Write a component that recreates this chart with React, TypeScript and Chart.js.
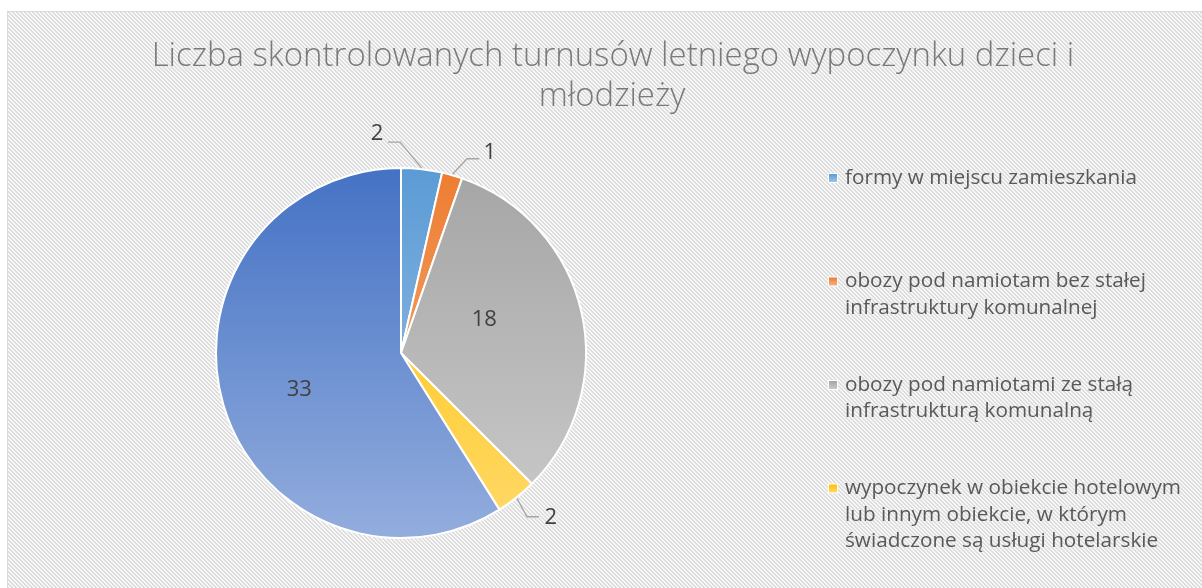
import { useEffect, useRef } from "react";
import { Chart, registerables } from "chart.js";

Chart.register(...registerables);

const TITLE_LINES = [
  "Liczba skontrolowanych turnusów letniego wypoczynku dzieci i",
  "młodzieży",
];
const CATEGORIES: string[][] = [
  ["formy w miejscu zamieszkania"],
  ["obozy pod namiotam bez stałej", "infrastruktury komunalnej"],
  ["obozy pod namiotami ze stałą", "infrastrukturą komunalną"],
  ["wypoczynek w obiekcie hotelowym", "lub innym obiekcie, w którym", "świadczone są usługi hotelarskie"],
  [""],
];
const VALUES = [2, 1, 18, 2, 33];
const COLORS = ["#5B9BD5", "#ED7D31", "#A5A5A5", "#FFC000", "#4472C4"];

const W = 1202;
const H = 588;
const FONT = "'Open Sans', Lato, sans-serif";

function hexToRgb(h: string) {
  const n = parseInt(h.slice(1), 16);
  return [(n >> 16) & 255, (n >> 8) & 255, n & 255];
}
function tint(h: string, t: number) {
  const [r, g, b] = hexToRgb(h);
  const m = (v: number) => Math.round(v + (255 - v) * t);
  return `rgb(${m(r)},${m(g)},${m(b)})`;
}

function gradient(ctx: CanvasRenderingContext2D, top: number, bottom: number, color: string) {
  const g = ctx.createLinearGradient(0, top, 0, bottom);
  g.addColorStop(0, color);
  g.addColorStop(1, tint(color, 0.42));
  return g;
}

function makePattern(ctx: CanvasRenderingContext2D) {
  const c = document.createElement("canvas");
  c.width = 4;
  c.height = 4;
  const p = c.getContext("2d")!;
  for (let y = 0; y < 4; y++) {
    for (let x = 0; x < 4; x++) {
      p.fillStyle = ((x - y + 8) % 4) < 2 ? "#dddddd" : "#f7f7f7";
      p.fillRect(x, y, 1, 1);
    }
  }
  return ctx.createPattern(c, "repeat")!;
}

// pick a font size so that text fills a given width
function fitFont(ctx: CanvasRenderingContext2D, weight: string, text: string, target: number) {
  ctx.font = `${weight} 20px ${FONT}`;
  const w = ctx.measureText(text).width;
  const size = (20 * target) / w;
  return `${weight} ${size.toFixed(2)}px ${FONT}`;
}

// label placement relative to pie centre, in units of the outer radius
const LABEL_LAYOUT = [
  { lx: -0.13, ly: -1.19, elbow: [-0.005, -1.14], end: [-0.07, -1.14] },
  { lx: 0.48, ly: -1.09, elbow: [0.357, -1.05], end: [0.422, -1.05] },
  { lx: 0.45, ly: -0.185 },
  { lx: 0.81, ly: 0.885, elbow: [0.681, 0.885], end: [0.746, 0.885] },
  { lx: -0.55, ly: 0.195 },
];

const bgPlugin = {
  id: "bg",
  beforeDraw(chart: any) {
    const ctx: CanvasRenderingContext2D = chart.ctx;
    ctx.save();
    ctx.fillStyle = "#ffffff";
    ctx.fillRect(0, 0, W, H);
    ctx.fillStyle = makePattern(ctx);
    ctx.fillRect(7, 11, W, H);
    ctx.strokeStyle = "#d9d9d9";
    ctx.lineWidth = 1;
    ctx.strokeRect(7.5, 11.5, W, H);
    ctx.restore();
  },
};

const titlePlugin = {
  id: "titleDraw",
  afterDraw(chart: any) {
    const ctx: CanvasRenderingContext2D = chart.ctx;
    ctx.save();
    ctx.fillStyle = "#7a7a7a";
    ctx.font = fitFont(ctx, "300", TITLE_LINES[0], 923);
    ctx.textAlign = "center";
    ctx.textBaseline = "alphabetic";
    ctx.fillText(TITLE_LINES[0], 613, 66);
    ctx.fillText(TITLE_LINES[1], 612, 106);
    ctx.restore();
  },
};

const legendPlugin = {
  id: "legendDraw",
  afterDraw(chart: any) {
    const ctx: CanvasRenderingContext2D = chart.ctx;
    ctx.save();
    ctx.font = fitFont(ctx, "400", CATEGORIES[0][0], 292);
    ctx.textBaseline = "middle";
    ctx.textAlign = "left";
    let slot = 0;
    CATEGORIES.forEach((lines, i) => {
      if (!lines.join("").trim()) return;
      const y0 = 178 + slot * 103.5;
      slot++;
      const mx = 829;
      const my = y0 - 4;
      const g = ctx.createLinearGradient(0, my, 0, my + 8);
      g.addColorStop(0, COLORS[i]);
      g.addColorStop(1, tint(COLORS[i], 0.4));
      ctx.fillStyle = "#ffffff";
      ctx.fillRect(mx - 1, my - 1, 10, 10);
      ctx.fillStyle = g;
      ctx.fillRect(mx, my, 8, 8);
      ctx.fillStyle = "#595959";
      lines.forEach((t, k) => ctx.fillText(t, 845, y0 + k * 26.5));
    });
    ctx.restore();
  },
};

const labelsPlugin = {
  id: "sliceLabels",
  afterDatasetsDraw(chart: any) {
    const ctx: CanvasRenderingContext2D = chart.ctx;
    const meta = chart.getDatasetMeta(0);
    ctx.save();
    ctx.font = `22px ${FONT}`;
    ctx.fillStyle = "#404040";
    ctx.textBaseline = "middle";
    ctx.textAlign = "center";
    meta.data.forEach((arc: any, i: number) => {
      const { x, y, startAngle, endAngle, outerRadius } = arc.getProps(
        ["x", "y", "startAngle", "endAngle", "outerRadius"],
        true
      );
      const R = outerRadius;
      const L: any = LABEL_LAYOUT[i];
      if (L.elbow) {
        const mid = (startAngle + endAngle) / 2;
        ctx.save();
        ctx.strokeStyle = "#a6a6a6";
        ctx.lineWidth = 1.3;
        ctx.beginPath();
        ctx.moveTo(x + Math.cos(mid) * (R + 1), y + Math.sin(mid) * (R + 1));
        ctx.lineTo(x + L.elbow[0] * R, y + L.elbow[1] * R);
        ctx.lineTo(x + L.end[0] * R, y + L.end[1] * R);
        ctx.stroke();
        ctx.restore();
      }
      ctx.fillText(String(VALUES[i]), x + L.lx * R, y + L.ly * R + 1);
    });
    ctx.restore();
  },
};

export default function App() {
  const ref = useRef<HTMLCanvasElement>(null);
  useEffect(() => {
    const canvas = ref.current!;
    const chart = new Chart(canvas, {
      type: "pie",
      data: {
        labels: CATEGORIES,
        datasets: [
          {
            data: VALUES,
            backgroundColor: (c: any) => {
              const area = c.chart.chartArea;
              const col = COLORS[c.dataIndex];
              if (!area) return col;
              return gradient(c.chart.ctx, area.top, area.bottom, col);
            },
            borderColor: "#ffffff",
            borderWidth: 2,
          },
        ],
      },
      options: {
        responsive: false,
        animation: false,
        layout: { padding: { left: 215, right: 615, top: 167, bottom: 49 } },
        plugins: {
          legend: { display: false },
          tooltip: { enabled: false },
          title: { display: false },
        },
      },
      plugins: [bgPlugin, labelsPlugin, legendPlugin, titlePlugin],
    } as any);
    return () => chart.destroy();
  }, []);
  return (
    <div style={{ position: "fixed", left: 0, top: 0, width: W, height: H, background: "#fff" }}>
      <canvas ref={ref} width={W} height={H} style={{ display: "block", width: W, height: H }} />
    </div>
  );
}
